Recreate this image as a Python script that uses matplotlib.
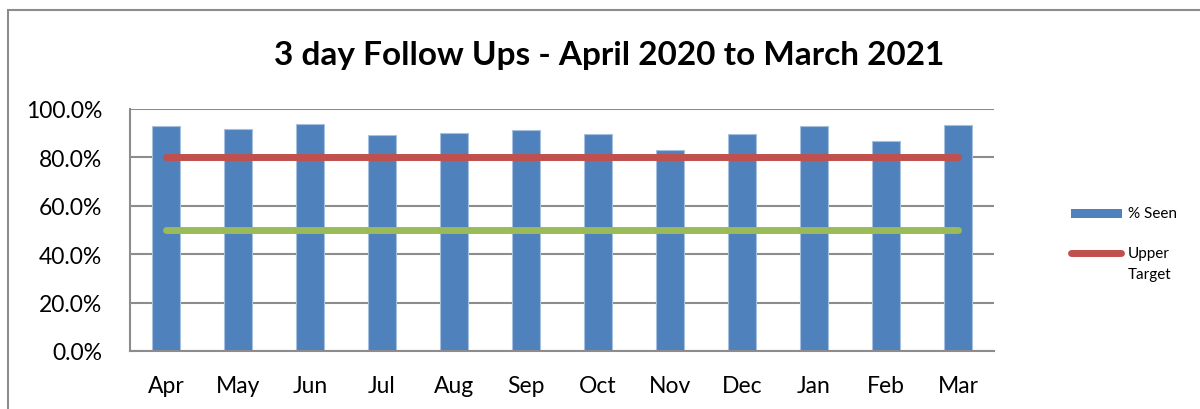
import matplotlib
matplotlib.use("Agg")
import matplotlib.pyplot as plt
from matplotlib.patches import Rectangle
from matplotlib.lines import Line2D
import numpy as np

plt.rcParams['font.family'] = ['Lato', 'DejaVu Sans']

months = ['Apr', 'May', 'Jun', 'Jul', 'Aug', 'Sep', 'Oct', 'Nov', 'Dec', 'Jan', 'Feb', 'Mar']
pct_seen = [93.1, 91.6, 93.9, 89.1, 89.9, 91.3, 89.8, 83.2, 89.7, 92.8, 86.8, 93.3]
upper_target = [80.0] * 12
lower_target = [50.0] * 12
yticks = [0, 20, 40, 60, 80, 100]

BLUE = '#4F81BD'
RED = '#C0504D'
GREEN = '#9BBB59'
GRID = '#8c8c8c'

W, H = 1200, 410
fig = plt.figure(figsize=(12, 4.1), dpi=100)


def fx(px):
    return px / W


def fy(py):
    return 1 - py / H


fig.patches.append(Rectangle((fx(8), -0.1), 1.2, fy(11) + 0.1,
                             transform=fig.transFigure, fill=False,
                             edgecolor=GRID, linewidth=1.5))

ax = fig.add_axes([fx(130), fy(352), 864 / W, 242 / H])
x = np.arange(len(months))
ax.bar(x, pct_seen, width=0.4, color=BLUE, edgecolor='#a7c0de', linewidth=0.8, zorder=2)
ax.plot(x, upper_target, color=RED, linewidth=5, solid_capstyle='round', zorder=3)
ax.plot(x, lower_target, color=GREEN, linewidth=5, solid_capstyle='round', zorder=3)

ax.set_xlim(-0.5, len(months) - 0.5)
ax.set_ylim(0, 100)
ax.set_yticks(yticks)
ax.set_yticklabels([f'{v:.1f}%' for v in yticks], fontsize=16.5)
ax.set_xticks(x)
ax.set_xticklabels(months, fontsize=16.5)
ax.tick_params(axis='both', length=0)
ax.tick_params(axis='y', pad=20)
ax.tick_params(axis='x', pad=17)
ax.grid(axis='y', color=GRID, linewidth=1.5, zorder=0)
ax.set_axisbelow(True)
for s in ['top', 'right']:
    ax.spines[s].set_visible(False)
for s in ['left', 'bottom']:
    ax.spines[s].set_color(GRID)
    ax.spines[s].set_linewidth(1.5)

fig.text(fx(609), fy(56), '3 day Follow Ups - April 2020 to March 2021',
         ha='center', va='center', fontsize=24, fontweight='bold')

# legend (drawn manually to match layout)
fig.patches.append(Rectangle((fx(1071), fy(219)), 51 / W, 9 / H,
                             transform=fig.transFigure, facecolor=BLUE,
                             edgecolor='none'))
fig.text(fx(1128), fy(214), '% Seen', ha='left', va='center', fontsize=11)
fig.lines.append(Line2D([fx(1071), fx(1121)], [fy(254), fy(254)],
                        transform=fig.transFigure, color=RED, linewidth=5,
                        solid_capstyle='round'))
fig.text(fx(1128), fy(254), 'Upper', ha='left', va='center', fontsize=11)
fig.text(fx(1128), fy(275), 'Target', ha='left', va='center', fontsize=11)

fig.savefig('out.png', dpi=100)
